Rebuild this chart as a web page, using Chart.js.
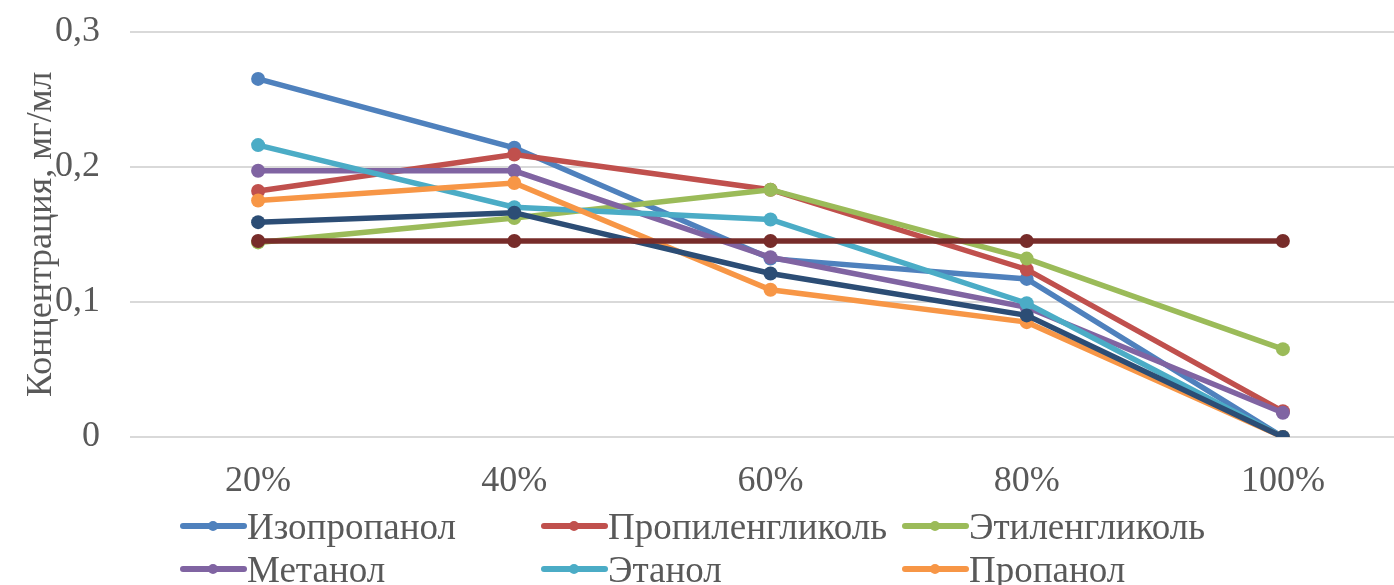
<!DOCTYPE html>
<html>
<head>
<meta charset="utf-8">
<script src="https://cdn.jsdelivr.net/npm/chart.js@4/dist/chart.umd.min.js"></script>
<style>
  html, body { margin:0; padding:0; background:#fff; overflow:hidden; width:1394px; height:585px; }
  #wrap { position:relative; width:1394px; height:585px; overflow:hidden; }
  canvas { position:absolute; left:0; top:-20px; }
  #legend { position:absolute; left:180px; top:505px; display:grid;
    grid-template-columns: 361px 361px 361px; row-gap:0px;
    font-family:"Liberation Serif", "Times New Roman", serif; font-size:37px; color:#595959; }
  .item { display:flex; align-items:center; height:43px; white-space:nowrap; line-height:43px; }
  .sw { position:relative; width:67px; height:43px; flex:none; }
  .sw .ln { position:absolute; left:0; right:0; top:18px; height:6px; border-radius:3px; }
  .sw .dt { position:absolute; left:28px; top:16px; width:10px; height:10px; border-radius:50%; }
</style>
</head>
<body>
<div id="wrap">
  <canvas id="c" width="1420" height="605"></canvas>
  <div id="legend"></div>
</div>
<script>
const categories = ["20%", "40%", "60%", "80%", "100%"];
const yTicks = [0, 0.1, 0.2, 0.3];
const yTitle = "Концентрация, мг/мл";

const seriesNames = ["Изопропанол", "Пропиленгликоль", "Этиленгликоль", "Метанол", "Этанол", "Пропанол", "Ряд7", "Ряд8"];
const seriesColors = ["#4F81BD", "#C0504D", "#9BBB59", "#8064A2", "#4BACC6", "#F79646", "#2C4D75", "#772C2A"];
const legendShown = [true, true, true, true, true, true, false, false];

const isopropanol     = [0.265, 0.214, 0.132, 0.117, 0.000];
const propyleneglycol = [0.182, 0.209, 0.183, 0.124, 0.019];
const ethyleneglycol  = [0.144, 0.162, 0.183, 0.132, 0.065];
const methanol        = [0.197, 0.197, 0.133, 0.096, 0.018];
const ethanol         = [0.216, 0.170, 0.161, 0.099, 0.000];
const propanol        = [0.175, 0.188, 0.109, 0.085, 0.000];
const series7         = [0.159, 0.166, 0.121, 0.090, 0.000];
const series8         = [0.145, 0.145, 0.145, 0.145, 0.145];

const seriesData = [isopropanol, propyleneglycol, ethyleneglycol, methanol, ethanol, propanol, series7, series8];

const FONT = "'Liberation Serif', 'Times New Roman', serif";
const TEXT = "#595959";

const datasets = seriesData.map((d, i) => ({
  label: seriesNames[i],
  data: d,
  borderColor: seriesColors[i],
  backgroundColor: seriesColors[i],
  borderWidth: 5.5,
  pointRadius: 7,
  pointBorderWidth: 0,
  pointBackgroundColor: seriesColors[i],
  tension: 0,
  order: seriesData.length - i
}));

new Chart(document.getElementById("c"), {
  type: "line",
  data: { labels: categories, datasets },
  options: {
    responsive: false,
    animation: false,
    layout: { padding: { left: 20, right: 9, top: 9, bottom: 48 } },
    plugins: { legend: { display: false }, tooltip: { enabled: false } },
    scales: {
      x: {
        offset: true,
        grid: { display: false, drawTicks: false },
        border: { display: false },
        ticks: { color: TEXT, font: { family: FONT, size: 36 }, padding: 23, maxRotation: 0 },
        afterFit: (axis) => { axis.height = 100; }
      },
      y: {
        min: 0, max: 0.3,
        afterBuildTicks: (axis) => { axis.ticks = yTicks.map(v => ({ value: v })); },
        grid: { color: "#d9d9d9", lineWidth: 2, drawTicks: false },
        border: { display: false },
        ticks: {
          color: TEXT, font: { family: FONT, size: 36 }, padding: 30,
          callback: (v) => (v === 0 ? "0" : String(Math.round(v * 10) / 10).replace(".", ","))
        },
        title: { display: true, text: yTitle, color: TEXT, font: { family: FONT, size: 36 }, padding: { top: 0, bottom: 0 } },
        afterFit: (axis) => { axis.width = 110; }
      }
    }
  }
});

const leg = document.getElementById("legend");
seriesNames.forEach((n, i) => {
  if (!legendShown[i]) return;
  const it = document.createElement("div");
  it.className = "item";
  it.innerHTML = '<span class="sw"><span class="ln" style="background:' + seriesColors[i] + '"></span><span class="dt" style="background:' + seriesColors[i] + '"></span></span><span>' + n + '</span>';
  leg.appendChild(it);
});
</script>
</body>
</html>
